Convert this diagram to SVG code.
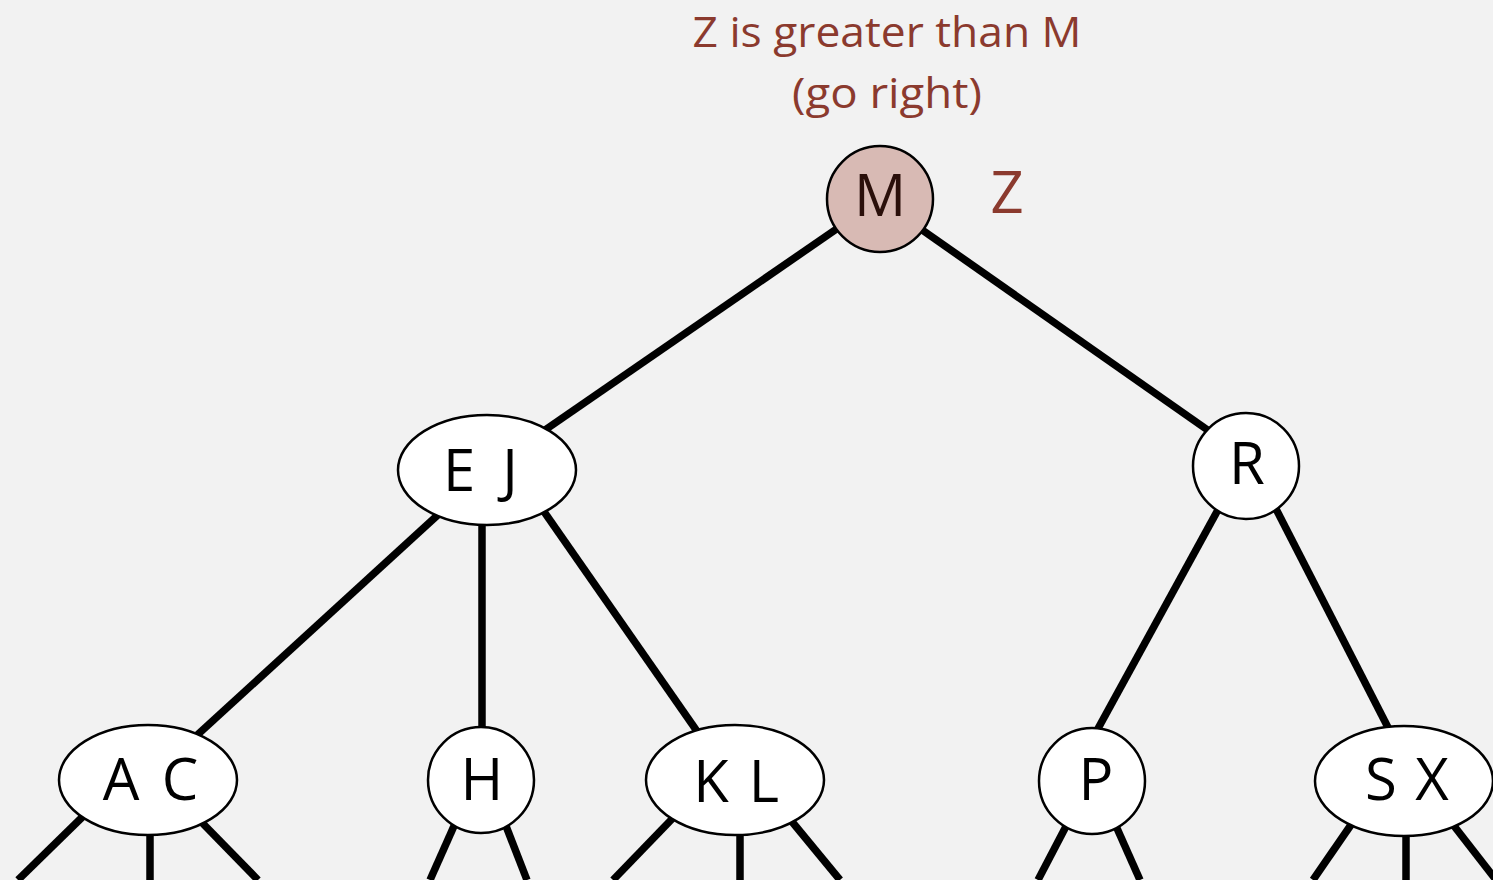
<svg xmlns="http://www.w3.org/2000/svg" width="1493" height="880" viewBox="0 0 1493 880">
<style>
.edge{stroke:#000;stroke-width:7.5;fill:none}
.node{fill:#fff;stroke:#000;stroke-width:2.5}
.hl{fill:#d8bab4;stroke:#000;stroke-width:2.5}
.lbl{font-family:"Open Sans","DejaVu Sans",sans-serif;font-size:58px;fill:#000;text-anchor:middle}
.note{font-family:"Open Sans","DejaVu Sans",sans-serif;fill:#8b3a2e;text-anchor:middle}
</style>
<rect width="1493" height="880" fill="#f2f2f2"/>
<g id="connectors">
<line class="edge" x1="880" y1="199" x2="487" y2="470"/>
<line class="edge" x1="878" y1="199" x2="1259" y2="466"/>
<line class="edge" x1="487" y1="470" x2="148" y2="780"/>
<line class="edge" x1="482" y1="470" x2="482" y2="780"/>
<line class="edge" x1="515" y1="470" x2="731" y2="780"/>
<line class="edge" x1="1242" y1="466" x2="1089" y2="745"/>
<line class="edge" x1="1254" y1="466" x2="1397" y2="745"/>
<line class="edge" x1="110" y1="790" x2="18" y2="880"/>
<line class="edge" x1="150" y1="790" x2="150" y2="880"/>
<line class="edge" x1="175" y1="795" x2="258" y2="880"/>
<line class="edge" x1="470" y1="790" x2="430" y2="880"/>
<line class="edge" x1="492" y1="790" x2="527" y2="880"/>
<line class="edge" x1="700" y1="790" x2="613" y2="880"/>
<line class="edge" x1="740" y1="790" x2="740" y2="880"/>
<line class="edge" x1="770" y1="795" x2="840" y2="880"/>
<line class="edge" x1="1085" y1="790" x2="1038" y2="880"/>
<line class="edge" x1="1100" y1="790" x2="1140" y2="880"/>
<line class="edge" x1="1375" y1="790" x2="1313" y2="880"/>
<line class="edge" x1="1406" y1="790" x2="1406" y2="880"/>
<line class="edge" x1="1430" y1="795" x2="1500" y2="885"/>
</g>
<g id="note">
<text class="note" x="887" y="47" font-size="42" textLength="389" lengthAdjust="spacingAndGlyphs">Z is greater than M</text>
<text class="note" x="887" y="108" font-size="42" textLength="190" lengthAdjust="spacingAndGlyphs">(go right)</text>
</g>
<g id="node-M">
<circle class="hl" cx="880" cy="199" r="53"/>
<text class="lbl" x="880" y="216" style="fill:#2a0f0a">M</text>
</g>
<g id="search-Z">
<text class="note" x="1007" y="213" font-size="58">Z</text>
</g>
<g id="node-EJ">
<ellipse class="node" cx="487" cy="470" rx="89" ry="55"/>
<text class="lbl" y="491"><tspan x="459">E</tspan><tspan x="510">J</tspan></text>
</g>
<g id="node-R">
<circle class="node" cx="1246" cy="466" r="53"/>
<text class="lbl" x="1247" y="484">R</text>
</g>
<g id="node-AC">
<ellipse class="node" cx="148" cy="780" rx="89" ry="55"/>
<text class="lbl" y="800"><tspan x="121">A</tspan><tspan x="180">C</tspan></text>
</g>
<g id="node-H">
<ellipse class="node" cx="481" cy="780" rx="53" ry="53"/>
<text class="lbl" x="482" y="800">H</text>
</g>
<g id="node-KL">
<ellipse class="node" cx="735" cy="780" rx="89" ry="55"/>
<text class="lbl" y="802"><tspan x="711">K</tspan><tspan x="764">L</tspan></text>
</g>
<g id="node-P">
<ellipse class="node" cx="1092" cy="781" rx="53" ry="53"/>
<text class="lbl" x="1096" y="800">P</text>
</g>
<g id="node-SX">
<ellipse class="node" cx="1404" cy="781" rx="89" ry="55"/>
<text class="lbl" y="800"><tspan x="1381">S</tspan><tspan x="1432">X</tspan></text>
</g>
</svg>
